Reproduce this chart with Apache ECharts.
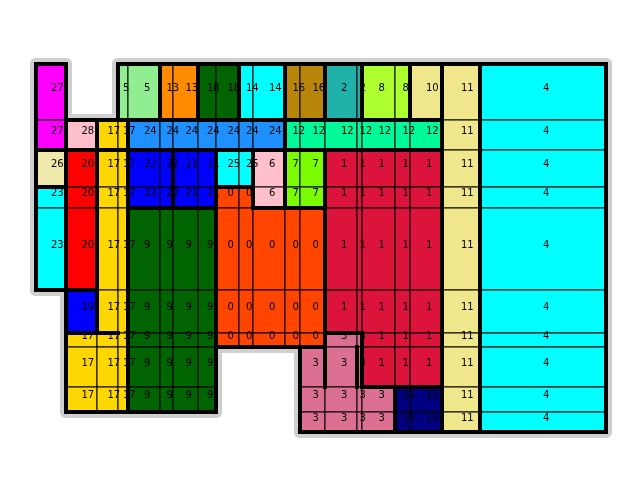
<!DOCTYPE html>
<html><head><meta charset="utf-8">
<script src="https://cdn.jsdelivr.net/npm/echarts@6/dist/echarts.min.js"></script>
<style>html,body{margin:0;padding:0;background:#fff}#c{width:640px;height:500px}</style>
</head><body><div id="c"></div>
<script>
// Floor-plan grid: column widths and row heights (plan units)
const colWidths = [30, 31, 21, 10, 32, 13, 25, 18, 23, 14, 32, 15, 25, 32, 5, 33, 15, 32, 38, 126];
const rowHeights = [56, 30, 37, 21, 82, 43, 14, 40, 25, 20];
const N = null;
// zone id of every cell (null = no cell)
const row0 = [27, N, N, 5, 5, 13, 13, 18, 18, 14, 14, 16, 16, 2, 2, 8, 8, 10, 11, 4];
const row1 = [27, 28, 17, 17, 24, 24, 24, 24, 24, 24, 24, 12, 12, 12, 12, 12, 12, 12, 11, 4];
const row2 = [26, 20, 17, 17, 22, 22, 21, 21, 25, 25, 6, 7, 7, 1, 1, 1, 1, 1, 11, 4];
const row3 = [23, 20, 17, 17, 22, 22, 21, 21, 0, 0, 6, 7, 7, 1, 1, 1, 1, 1, 11, 4];
const row4 = [23, 20, 17, 17, 9, 9, 9, 9, 0, 0, 0, 0, 0, 1, 1, 1, 1, 1, 11, 4];
const row5 = [N, 19, 17, 17, 9, 9, 9, 9, 0, 0, 0, 0, 0, 1, 1, 1, 1, 1, 11, 4];
const row6 = [N, 17, 17, 17, 9, 9, 9, 9, 0, 0, 0, 0, 0, 3, 3, 1, 1, 1, 11, 4];
const row7 = [N, 17, 17, 17, 9, 9, 9, 9, N, N, N, N, 3, 3, 3, 1, 1, 1, 11, 4];
const row8 = [N, 17, 17, 17, 9, 9, 9, 9, N, N, N, N, 3, 3, 3, 3, 15, 15, 11, 4];
const row9 = [N, N, N, N, N, N, N, N, N, N, N, N, 3, 3, 3, 3, 15, 15, 11, 4];
const zoneGrid = [row0, row1, row2, row3, row4, row5, row6, row7, row8, row9];
// extra walls inside a zone: [row, col, side]
const extraWalls = [[1, 2, 'bottom'], [1, 3, 'bottom'], [5, 2, 'bottom'], [7, 13, 'left'], [7, 14, 'left']];
const zoneColors = {
  0: '#FF4500', 1: '#DC143C', 2: '#20B2AA', 3: '#DB7093', 4: '#00FFFF', 5: '#90EE90',
  6: '#FFC0CB', 7: '#7CFC00', 8: '#ADFF2F', 9: '#006400', 10: '#F0E68C', 11: '#F0E68C',
  12: '#00FA9A', 13: '#FF8C00', 14: '#00FFFF', 15: '#000080', 16: '#B8860B', 17: '#FFD700',
  18: '#006400', 19: '#0000FF', 20: '#FF0000', 21: '#0000FF', 22: '#0000FF', 23: '#00FFFF',
  24: '#1E90FF', 25: '#00FFFF', 26: '#EEE8AA', 27: '#FF00FF', 28: '#FFC0CB'
};

const colEdges = [0]; colWidths.forEach(w => colEdges.push(colEdges[colEdges.length - 1] + w));
const rowEdges = [0]; rowHeights.forEach(h => rowEdges.push(rowEdges[rowEdges.length - 1] + h));
const nR = zoneGrid.length, nC = colWidths.length;
const totalW = colEdges[nC], totalH = rowEdges[nR];

const cells = [];
zoneGrid.forEach((row, r) => row.forEach((v, c) => { if (v !== null) cells.push([c, r, v]); }));

function zoneAt(r, c) {
  if (r < 0 || r >= nR || c < 0 || c >= nC) return null;
  return zoneGrid[r][c];
}
// boundary segments between different zones: [x1,y1,x2,y2,outer]
const segs = [];
for (let r = 0; r < nR; r++) for (let c = 0; c <= nC; c++) {
  const a = zoneAt(r, c - 1), b = zoneAt(r, c);
  if (a !== b) segs.push([colEdges[c], rowEdges[r], colEdges[c], rowEdges[r + 1], (a === null || b === null) ? 1 : 0]);
}
for (let r = 0; r <= nR; r++) for (let c = 0; c < nC; c++) {
  const a = zoneAt(r - 1, c), b = zoneAt(r, c);
  if (a !== b) segs.push([colEdges[c], rowEdges[r], colEdges[c + 1], rowEdges[r], (a === null || b === null) ? 1 : 0]);
}
extraWalls.forEach(([r, c, side]) => {
  if (side === 'bottom') segs.push([colEdges[c], rowEdges[r + 1], colEdges[c + 1], rowEdges[r + 1], 0]);
  else segs.push([colEdges[c], rowEdges[r], colEdges[c], rowEdges[r + 1], 0]);
});
const outerSegs = segs.filter(s => s[4] === 1);

const chart = echarts.init(document.getElementById('c'), null, {renderer: 'canvas'});

function segRender(color, width, cap) {
  return function (params, api) {
    const p1 = api.coord([api.value(0), api.value(1)]);
    const p2 = api.coord([api.value(2), api.value(3)]);
    return {type: 'line', shape: {x1: p1[0], y1: p1[1], x2: p2[0], y2: p2[1]},
      style: {stroke: color, lineWidth: width, lineCap: cap}};
  };
}

chart.setOption({
  animation: false,
  grid: {left: 36, top: 64, width: 570, height: 368},
  xAxis: {type: 'value', min: 0, max: totalW, show: false},
  yAxis: {type: 'value', min: 0, max: totalH, inverse: true, show: false},
  series: [
    {type: 'custom', z: 1, clip: false, silent: true, data: outerSegs,
      renderItem: segRender('#CFCFCF', 12, 'round')},
    {type: 'custom', z: 2, clip: false, silent: true, data: cells,
      renderItem: function (params, api) {
        const c = api.value(0), r = api.value(1), v = api.value(2);
        const p0 = api.coord([colEdges[c], rowEdges[r]]);
        const p1 = api.coord([colEdges[c + 1], rowEdges[r + 1]]);
        return {type: 'rect', shape: {x: p0[0], y: p0[1], width: p1[0] - p0[0], height: p1[1] - p0[1]},
          style: {fill: zoneColors[v], stroke: '#000', lineWidth: 1}};
      }},
    {type: 'custom', z: 3, clip: false, silent: true, data: cells,
      renderItem: function (params, api) {
        const c = api.value(0), r = api.value(1), v = api.value(2);
        const p = api.coord([(colEdges[c] + colEdges[c + 1]) / 2, (rowEdges[r] + rowEdges[r + 1]) / 2]);
        return {type: 'text', style: {text: String(v), x: p[0], y: p[1] - 4, align: 'left',
          verticalAlign: 'middle', fill: '#000', font: '10px "DejaVu Sans"'}};
      }},
    {type: 'custom', z: 4, clip: false, silent: true, data: segs,
      renderItem: segRender('#000', 4, 'square')}
  ]
});
</script>
</body></html>
